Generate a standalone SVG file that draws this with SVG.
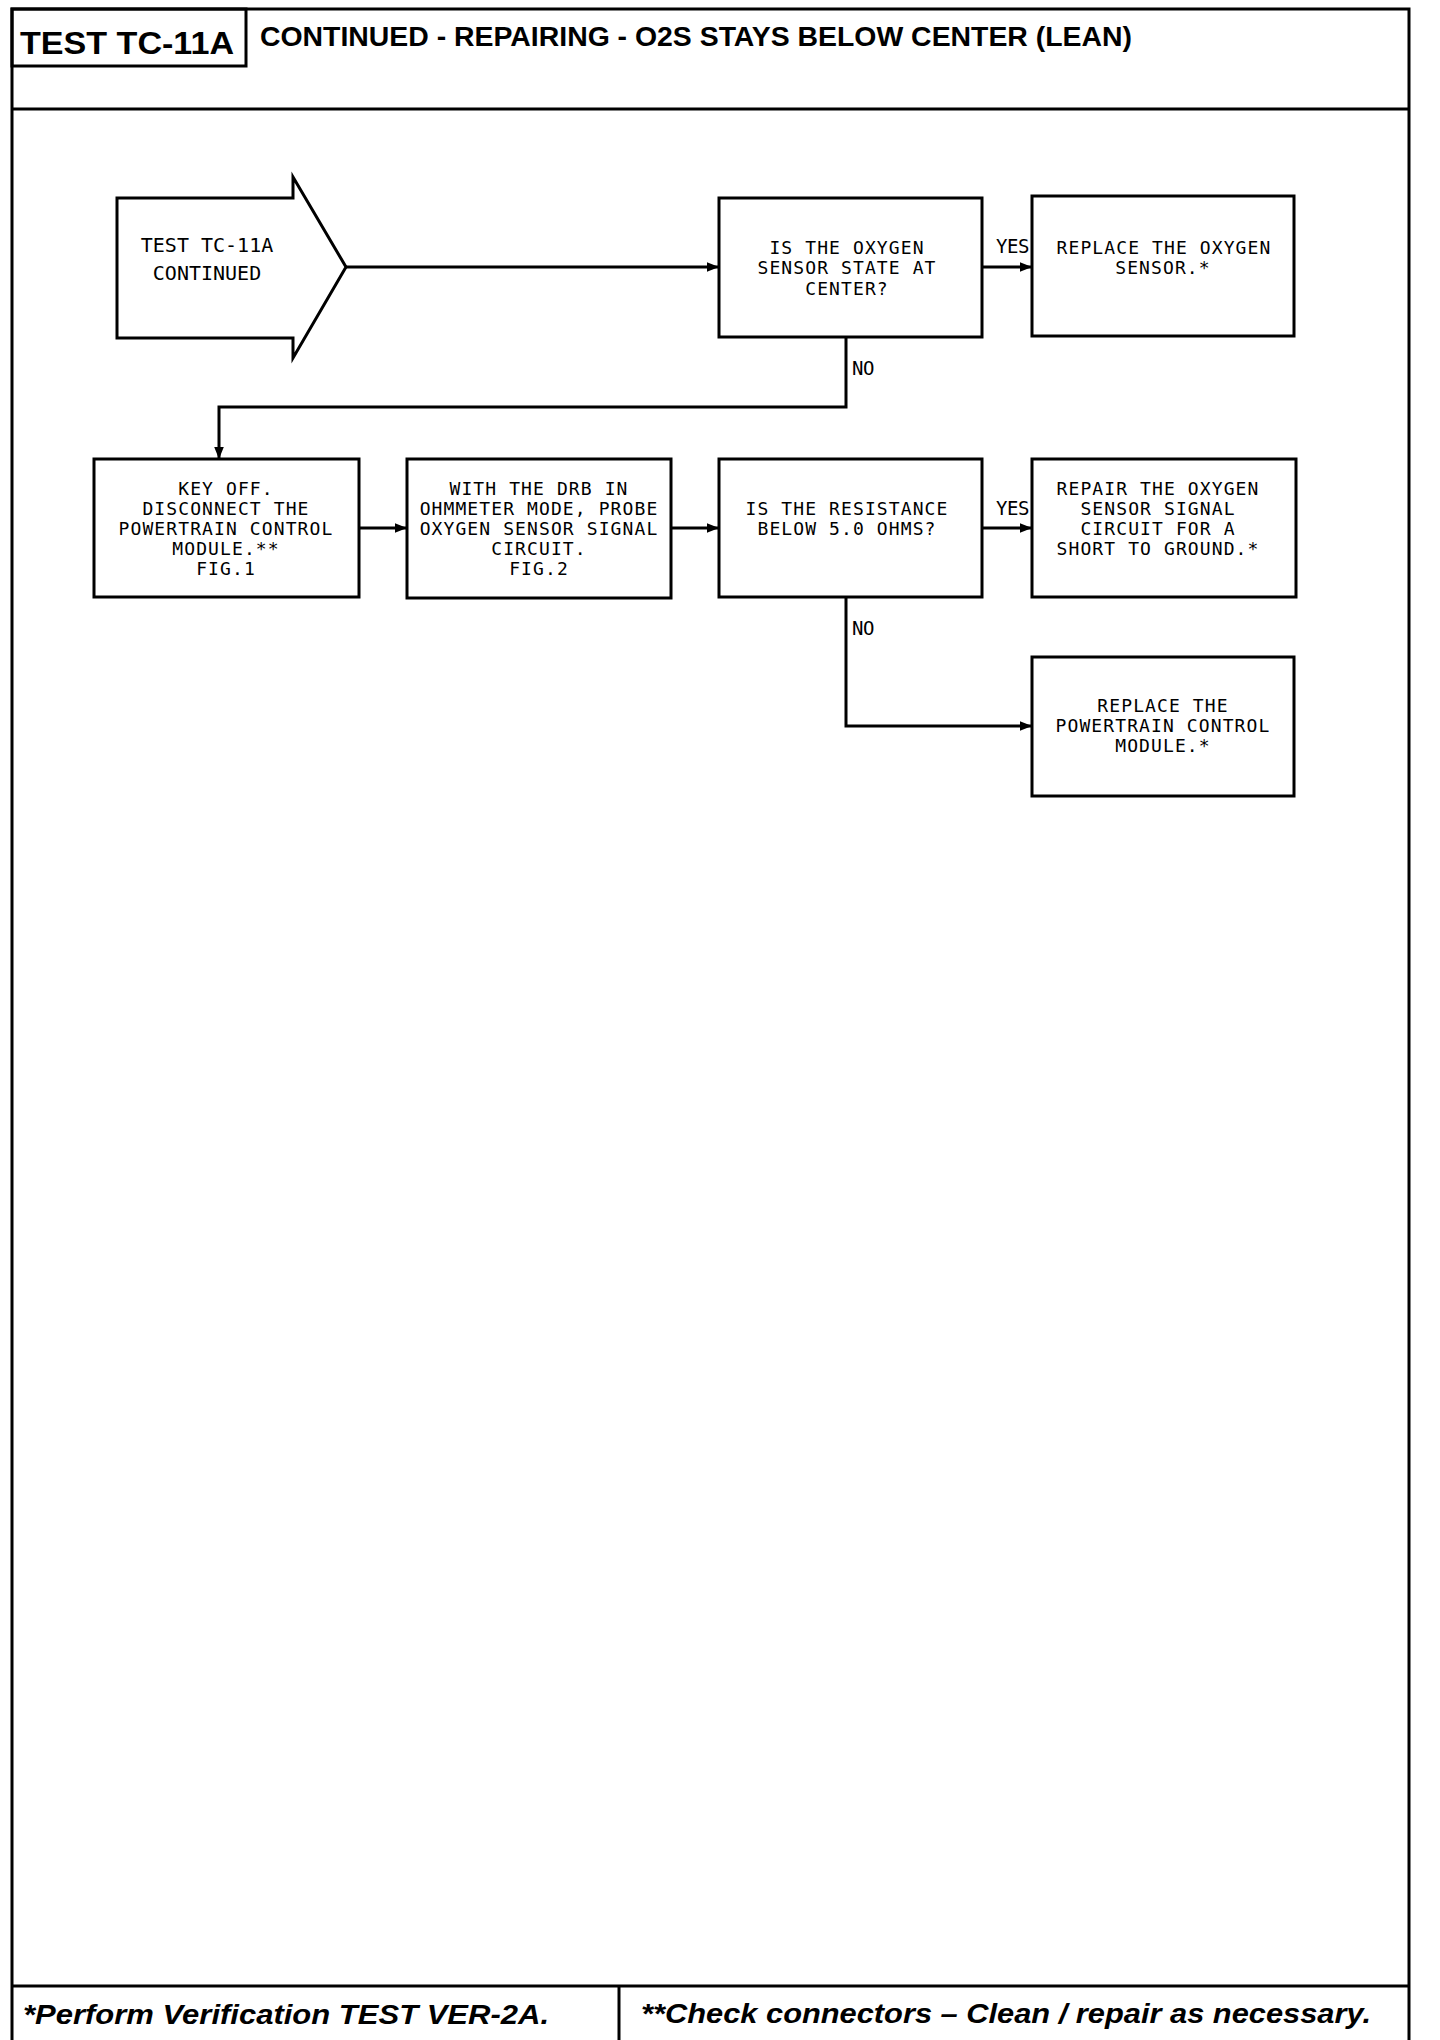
<svg xmlns="http://www.w3.org/2000/svg" width="1440" height="2040" viewBox="0 0 1440 2040">
<defs>
<style>
.frame{fill:none;stroke:#000;stroke-width:3}
.box{fill:#fff;stroke:#000;stroke-width:3}
.conn{fill:none;stroke:#000;stroke-width:3}
.t{font-family:"DejaVu Sans Mono","Liberation Mono",monospace;font-size:18px;letter-spacing:1.1px;fill:#000;text-anchor:middle}
.ts{font-family:"DejaVu Sans Mono","Liberation Mono",monospace;font-size:20px;letter-spacing:0px;fill:#000;text-anchor:middle}
.lbl{font-family:"DejaVu Sans Mono","Liberation Mono",monospace;font-size:19px;letter-spacing:-0.5px;fill:#000}
.hdr{font-family:"Liberation Sans",Arial,sans-serif;font-weight:bold;fill:#000}
.ftr{font-family:"Liberation Sans",Arial,sans-serif;font-weight:bold;font-style:italic;fill:#000}
</style>
<marker id="ah" viewBox="0 0 10 10" refX="10" refY="5" markerWidth="4" markerHeight="4" orient="auto" markerUnits="strokeWidth">
<path d="M0,1 L10,5 L0,9 Z" fill="#000"/>
</marker>
</defs>
<rect width="1440" height="2040" fill="#fff"/>
<g id="frame">
<path class="frame" d="M12,2040 V9 H1409 V2040"/>
<rect class="frame" x="12" y="9" width="234" height="57"/>
<line class="frame" x1="12" y1="109" x2="1409" y2="109"/>
<line class="frame" x1="12" y1="1986" x2="1409" y2="1986"/>
<line class="frame" x1="619" y1="1986" x2="619" y2="2040"/>
<text class="hdr" x="20" y="54" font-size="32" textLength="214" lengthAdjust="spacingAndGlyphs">TEST TC-11A</text>
<text class="hdr" x="260" y="46" font-size="27" textLength="872" lengthAdjust="spacingAndGlyphs">CONTINUED -  REPAIRING - O2S STAYS BELOW CENTER (LEAN)</text>
<text class="ftr" x="23" y="2024" font-size="28" textLength="526" lengthAdjust="spacingAndGlyphs">*Perform Verification TEST VER-2A.</text>
<text class="ftr" x="641" y="2023" font-size="28" textLength="730" lengthAdjust="spacingAndGlyphs">**Check connectors – Clean / repair as necessary.</text>
</g>
<g id="connectors">
<line class="conn" x1="346" y1="267" x2="719" y2="267" marker-end="url(#ah)"/>
<line class="conn" x1="982" y1="267" x2="1032" y2="267" marker-end="url(#ah)"/>
<polyline class="conn" points="846,337 846,407 219,407 219,459" marker-end="url(#ah)"/>
<line class="conn" x1="359" y1="528" x2="407" y2="528" marker-end="url(#ah)"/>
<line class="conn" x1="671" y1="528" x2="719" y2="528" marker-end="url(#ah)"/>
<line class="conn" x1="982" y1="528" x2="1032" y2="528" marker-end="url(#ah)"/>
<polyline class="conn" points="846,597 846,726 1032,726" marker-end="url(#ah)"/>
<text class="lbl" x="996" y="253">YES</text>
<text class="lbl" x="852" y="375">NO</text>
<text class="lbl" x="996" y="515">YES</text>
<text class="lbl" x="852" y="635">NO</text>
</g>
<g id="start">
<path class="box" d="M117,198 H293 V177 L346,267 L293,358 V338 H117 Z"/>
<text class="ts" x="207" y="252">TEST TC-11A</text>
<text class="ts" x="207" y="280">CONTINUED</text>
</g>
<g id="q1">
<rect class="box" x="719" y="198" width="263" height="139"/>
<text class="t" x="847" y="254">IS THE OXYGEN</text>
<text class="t" x="847" y="274">SENSOR STATE AT</text>
<text class="t" x="847" y="295">CENTER?</text>
</g>
<g id="replace-o2">
<rect class="box" x="1032" y="196" width="262" height="140"/>
<text class="t" x="1164" y="254">REPLACE THE OXYGEN</text>
<text class="t" x="1163" y="274">SENSOR.*</text>
</g>
<g id="key-off">
<rect class="box" x="94" y="459" width="265" height="138"/>
<text class="t" x="226" y="495">KEY OFF.</text>
<text class="t" x="226" y="515">DISCONNECT THE</text>
<text class="t" x="226" y="535">POWERTRAIN CONTROL</text>
<text class="t" x="226" y="555">MODULE.**</text>
<text class="t" x="226" y="575">FIG.1</text>
</g>
<g id="ohmmeter">
<rect class="box" x="407" y="459" width="264" height="139"/>
<text class="t" x="539" y="495">WITH THE DRB IN</text>
<text class="t" x="539" y="515">OHMMETER MODE, PROBE</text>
<text class="t" x="539" y="535">OXYGEN SENSOR SIGNAL</text>
<text class="t" x="539" y="555">CIRCUIT.</text>
<text class="t" x="539" y="575">FIG.2</text>
</g>
<g id="q2">
<rect class="box" x="719" y="459" width="263" height="138"/>
<text class="t" x="847" y="515">IS THE RESISTANCE</text>
<text class="t" x="847" y="535">BELOW 5.0 OHMS?</text>
</g>
<g id="repair-circuit">
<rect class="box" x="1032" y="459" width="264" height="138"/>
<text class="t" x="1158" y="495">REPAIR THE OXYGEN</text>
<text class="t" x="1158" y="515">SENSOR SIGNAL</text>
<text class="t" x="1158" y="535">CIRCUIT FOR A</text>
<text class="t" x="1158" y="555">SHORT TO GROUND.*</text>
</g>
<g id="replace-pcm">
<rect class="box" x="1032" y="657" width="262" height="139"/>
<text class="t" x="1163" y="712">REPLACE THE</text>
<text class="t" x="1163" y="732">POWERTRAIN CONTROL</text>
<text class="t" x="1163" y="752">MODULE.*</text>
</g>
</svg>
